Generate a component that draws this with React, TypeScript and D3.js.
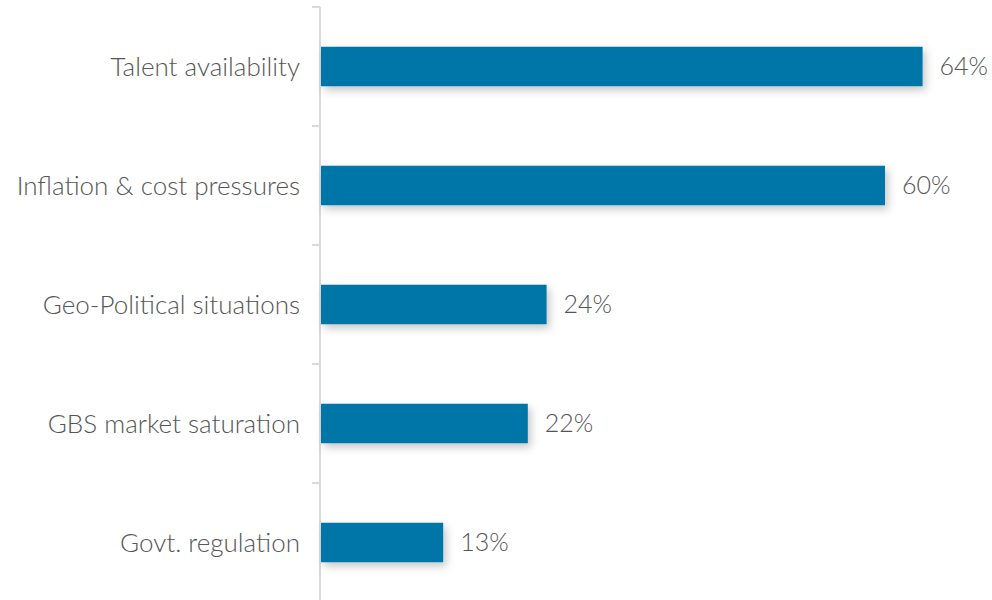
import React from "react";
import * as d3 from "d3";

const categories = [
  "Talent availability",
  "Inflation & cost pressures",
  "Geo-Political situations",
  "GBS market saturation",
  "Govt. regulation",
];
const values = [64, 60, 24, 22, 13];
const valueLabels = ["64%", "60%", "24%", "22%", "13%"];

export default function App() {
  const W = 992;
  const H = 600;
  const x = d3.scaleLinear().domain([0, 70]).range([321, 979]);
  const y = d3
    .scaleBand<string>()
    .domain(categories)
    .range([7, 602])
    .paddingInner(0.668)
    .paddingOuter(0.334);
  const step = y.step();
  const tickYs = d3.range(categories.length + 1).map((i) => 7 + i * step);
  const font = "Lato, 'Open Sans', sans-serif";
  return (
    <div style={{ position: "absolute", left: 0, top: 0 }}>
      <svg width={W} height={H} style={{ display: "block", background: "#fff" }}>
        <defs>
          <filter id="sh" x="-10%" y="-30%" width="130%" height="180%">
            <feDropShadow dx="3" dy="4" stdDeviation="4" floodColor="#000" floodOpacity="0.22" />
          </filter>
        </defs>
        <line x1={320} x2={320} y1={7} y2={H} stroke="#d9d9d9" strokeWidth={2} />
        {tickYs.map((t, i) => (
          <line key={i} x1={312} x2={320} y1={t} y2={t} stroke="#d9d9d9" strokeWidth={2} />
        ))}
        {categories.map((c, i) => (
          <g key={c}>
            <rect
              x={x(0)}
              y={y(c)!}
              width={x(values[i]) - x(0)}
              height={y.bandwidth()}
              fill="#0075A8"
              filter="url(#sh)"
            />
            <text
              x={300}
              y={y(c)! + y.bandwidth() / 2}
              dy="0.35em"
              textAnchor="end"
              fill="#555555"
              fontFamily={font}
              fontWeight={300}
              fontSize={26}
            >
              {c}
            </text>
            <text
              x={x(values[i]) + 17}
              y={y(c)! + y.bandwidth() / 2}
              dy="0.35em"
              textAnchor="start"
              fill="#555555"
              fontFamily={font}
              fontWeight={300}
              fontSize={25}
            >
              {valueLabels[i]}
            </text>
          </g>
        ))}
      </svg>
    </div>
  );
}
